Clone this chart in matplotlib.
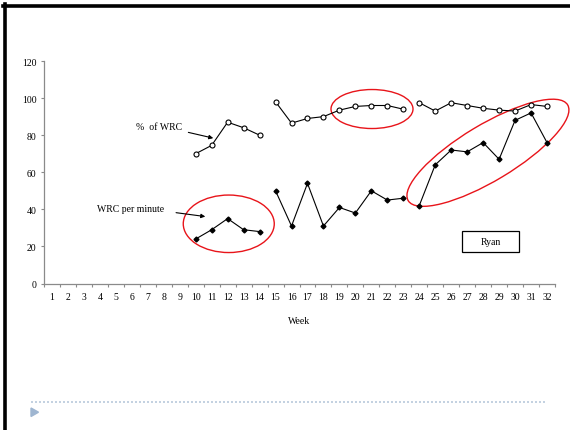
import numpy as np
import matplotlib
matplotlib.use("Agg")
import matplotlib.pyplot as plt
from matplotlib.patches import Ellipse, Rectangle, Polygon
from matplotlib.lines import Line2D
from matplotlib.transforms import ScaledTranslation

# Weekly observations for Ryan (weeks 1-9 have no data)
weeks = list(range(1, 33))
pct_wrc = [None] * 9 + [70, 74.5, 87, 84, 80,
                        98, 86.5, 89, 90, 93.5, 95.5, 96, 96, 94,
                        97.5, 93, 97.5, 96, 94.5, 93.5, 93, 96.5, 95.5]
wrc_per_min = [None] * 9 + [24, 29, 35, 29, 28,
                            50, 31, 54, 31, 41, 38, 50, 45, 46,
                            42, 64, 72, 71, 76, 67, 88, 92, 76]
# phase boundaries: lines are broken between these weeks
phases = [(10, 14), (15, 23), (24, 32)]
y_ticks = [0, 20, 40, 60, 80, 100, 120]

plt.rcParams['font.family'] = ['Liberation Serif', 'DejaVu Serif']
fig = plt.figure(figsize=(5.70, 4.31), dpi=100)
ax = fig.add_axes([44 / 570, 1 - 284.5 / 431, 511 / 570, 222.5 / 431])

for lo, hi in phases:
    idx = [w - 1 for w in weeks if lo <= w <= hi]
    xs = [weeks[i] for i in idx]
    ax.plot(xs, [pct_wrc[i] for i in idx], color='black', lw=0.8,
            marker='o', ms=3.6, mfc='white', mec='black', mew=0.8)
    ax.plot(xs, [wrc_per_min[i] for i in idx], color='black', lw=0.8,
            marker='D', ms=2.5, mfc='black', mec='black')

ax.set_xlim(0.5, 32.5)
ax.set_ylim(0, 120)
ax.set_yticks(y_ticks)
ax.set_xticks(weeks)
ax.set_xticks(np.arange(0.5, 33, 1), minor=True)
for s in ['top', 'right']:
    ax.spines[s].set_visible(False)
for s in ['left', 'bottom']:
    ax.spines[s].set_color('#8a8a8a')
    ax.spines[s].set_linewidth(0.9)
ax.tick_params(axis='x', which='major', length=0, pad=6, labelsize=7)
ax.tick_params(axis='x', which='minor', length=2.5, color='#8a8a8a', width=0.8, direction='out')
ax.tick_params(axis='y', length=2.5, color='#8a8a8a', width=0.8, pad=3, labelsize=7)
ax.set_xlabel('Week', fontsize=7, labelpad=11)

# callouts
arrow = dict(arrowstyle='-|>', color='black', lw=0.8, mutation_scale=6, shrinkA=0, shrinkB=0)
ax.annotate('', xy=(11.1, 78.4), xytext=(9.54, 81.5), arrowprops=arrow)
ax.text(7.68, 84.5, '%  of WRC', fontsize=7, ha='center', va='center')
ax.annotate('', xy=(10.6, 36.1), xytext=(8.77, 38.2), arrowprops=arrow)
ax.text(5.94, 40.5, 'WRC per minute', fontsize=7, ha='center', va='center')

# name box
ax.add_patch(Rectangle((26.69, 17.1), 3.57, 11.2, fill=False, ec='black', lw=0.9))
ax.text(28.48, 22.7, 'Ryan', fontsize=7, ha='center', va='center')

# highlighted regions (sizes in inches, centers in data units)
def ring(cx, cy, w, h, angle=0):
    tr = fig.dpi_scale_trans + ScaledTranslation(cx, cy, ax.transData)
    e = Ellipse((0, 0), w, h, angle=angle, fill=False, ec='#e8141a', lw=1.0,
                transform=tr, clip_on=False)
    ax.add_patch(e)

ring(12.07, 32.2, 0.91, 0.575)
ring(21.04, 94.1, 0.82, 0.39)
ring(28.3, 70.5, 1.86, 0.56, angle=31)

# slide frame and footer
fig.add_artist(Line2D([3 / 570, 1], [1 - 6.5 / 431] * 2, color='black', lw=2.6,
                      transform=fig.transFigure))
fig.add_artist(Line2D([4.5 / 570] * 2, [0, 1 - 5 / 431], color='black', lw=2.6,
                      transform=fig.transFigure))
fig.add_artist(Line2D([31 / 570, 546 / 570], [1 - 402.7 / 431] * 2, color='#b9c9dc',
                      lw=1.2, ls=(0, (1.2, 1.2)), transform=fig.transFigure))
fig.add_artist(Polygon([[31 / 570, 1 - 409 / 431], [31 / 570, 1 - 417.5 / 431],
                        [38.5 / 570, 1 - 413.2 / 431]], closed=True,
                       color='#9fb6d1', transform=fig.transFigure))

fig.savefig('out.png', dpi=100)
